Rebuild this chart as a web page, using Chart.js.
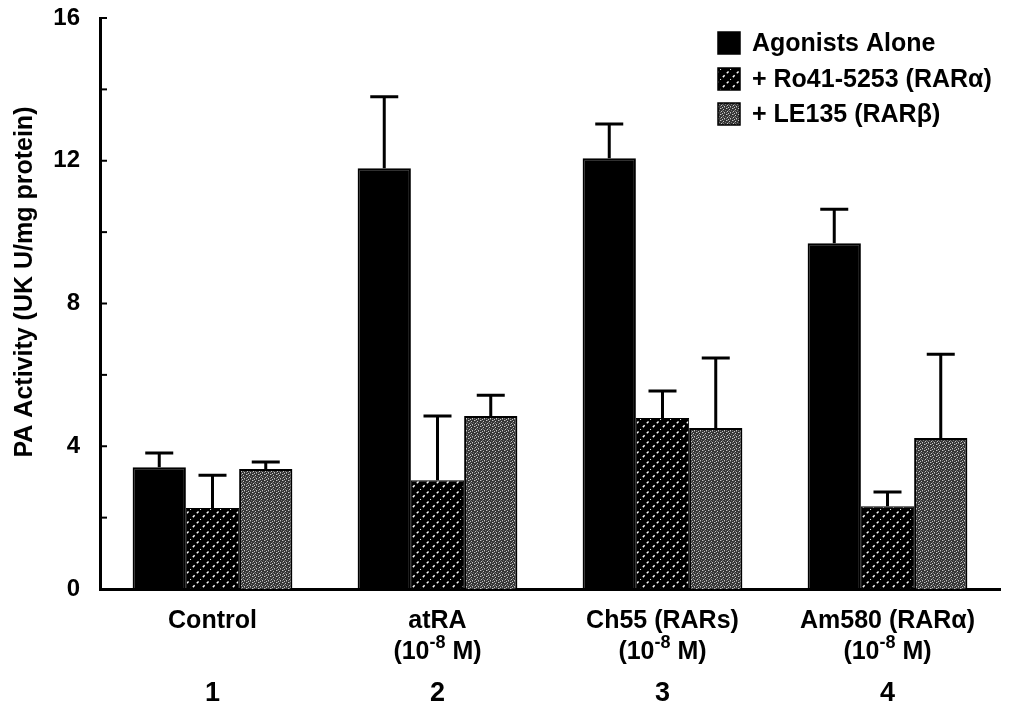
<!DOCTYPE html>
<html>
<head>
<meta charset="utf-8">
<script src="https://cdn.jsdelivr.net/npm/chart.js@4/dist/chart.umd.min.js"></script>
<style>
html, body { margin: 0; padding: 0; background: #fff; }
#wrap { width: 1012px; height: 721px; }
</style>
</head>
<body>
<div id="wrap"><canvas id="myChart" width="1012" height="721"></canvas></div>
<script>
var categories = ['Control', 'atRA', 'Ch55 (RARs)', 'Am580 (RAR\u03b1)'];
var hasConc = [false, true, true, true];
var groupNumbers = ['1', '2', '3', '4'];

var seriesNames = ['Agonists Alone', '+ Ro41-5253 (RAR\u03b1)', '+ LE135 (RAR\u03b2)'];
var agonists = [3.41, 11.79, 12.07, 9.69];
var agonistsErr = [0.40, 2.0, 0.96, 0.95];
var ro41 = [2.27, 3.05, 4.79, 2.32];
var ro41Err = [0.92, 1.8, 0.76, 0.40];
var le135 = [3.36, 4.85, 4.51, 4.23];
var le135Err = [0.20, 0.58, 1.96, 2.35];

var yTicks = [0, 4, 8, 12, 16];
var yTitle = 'PA Activity (UK U/mg protein)';
var FONT = '"Liberation Sans", Arial, sans-serif';

function hatchPattern() {
    var c = document.createElement('canvas');
    c.width = 10; c.height = 10;
    var g = c.getContext('2d');
    g.fillStyle = '#000';
    g.fillRect(0, 0, 10, 10);
    g.strokeStyle = '#fff';
    g.lineWidth = 1.5;
    g.setLineDash([2.5, 3]);
    g.beginPath();
    g.moveTo(-1, 11); g.lineTo(11, -1);
    g.stroke();
    return g.createPattern(c, 'repeat');
}

function stipplePattern() {
    var c = document.createElement('canvas');
    c.width = 6; c.height = 6;
    var g = c.getContext('2d');
    g.fillStyle = '#353535';
    g.fillRect(0, 0, 6, 6);
    g.fillStyle = '#c8c8c8';
    var dots = [[0,0],[3,1],[1,3],[4,4],[2,5]];
    dots.forEach(function(d) { g.fillRect(d[0], d[1], 1, 1); });
    g.fillStyle = '#777';
    var dots2 = [[1,0],[5,2],[2,2],[0,4],[4,5],[3,3]];
    dots2.forEach(function(d) { g.fillRect(d[0], d[1], 1, 1); });
    return g.createPattern(c, 'repeat');
}

var fills = ['#000', hatchPattern(), stipplePattern()];
var errs = [agonistsErr, ro41Err, le135Err];

var errorBars = {
    id: 'errorBars',
    afterDatasetsDraw: function(chart) {
        var ctx = chart.ctx;
        var y = chart.scales.y;
        ctx.save();
        ctx.strokeStyle = '#000';
        ctx.lineWidth = 3;
        chart.data.datasets.forEach(function(ds, i) {
            chart.getDatasetMeta(i).data.forEach(function(bar, j) {
                var top = y.getPixelForValue(ds.data[j] + errs[i][j]);
                ctx.beginPath();
                ctx.moveTo(bar.x, bar.y);
                ctx.lineTo(bar.x, top);
                ctx.moveTo(bar.x - 14, top);
                ctx.lineTo(bar.x + 14, top);
                ctx.stroke();
            });
        });
        ctx.restore();
    }
};

var decorations = {
    id: 'decorations',
    afterDraw: function(chart) {
        var ctx = chart.ctx;
        var xs = chart.scales.x;
        var ys = chart.scales.y;
        var left = chart.chartArea.left;
        ctx.save();

        // inward tick marks
        ctx.strokeStyle = '#000';
        ctx.lineWidth = 2;
        ys.ticks.forEach(function(t) {
            var p = ys.getPixelForValue(t.value);
            ctx.beginPath();
            ctx.moveTo(left, p);
            ctx.lineTo(left + 7, p);
            ctx.stroke();
        });

        // y title
        ctx.fillStyle = '#000';
        ctx.font = 'bold 25px ' + FONT;
        ctx.textAlign = 'center';
        ctx.textBaseline = 'middle';
        ctx.translate(25, 282);
        ctx.rotate(-Math.PI / 2);
        ctx.fillText(yTitle, 0, 0);
        ctx.setTransform(1, 0, 0, 1, 0, 0);

        // category labels
        categories.forEach(function(cat, i) {
            var cx = xs.getPixelForValue(i);
            ctx.font = 'bold 25px ' + FONT;
            ctx.textAlign = 'center';
            ctx.textBaseline = 'middle';
            ctx.fillText(cat, cx, 621);
            if (hasConc[i]) {
                var a = '(10', s = '-8', b = ' M)';
                ctx.font = 'bold 25px ' + FONT;
                var wa = ctx.measureText(a).width, wb = ctx.measureText(b).width;
                ctx.font = 'bold 18px ' + FONT;
                var ws = ctx.measureText(s).width;
                var x0 = cx - (wa + ws + wb) / 2;
                ctx.textAlign = 'left';
                ctx.font = 'bold 25px ' + FONT;
                ctx.fillText(a, x0, 652);
                ctx.fillText(b, x0 + wa + ws, 652);
                ctx.font = 'bold 18px ' + FONT;
                ctx.fillText(s, x0 + wa, 643);
            }
            ctx.font = 'bold 27px ' + FONT;
            ctx.textAlign = 'center';
            ctx.fillText(groupNumbers[i], cx, 694);
        });

        // legend
        ctx.textAlign = 'left';
        ctx.textBaseline = 'middle';
        ctx.font = 'bold 25px ' + FONT;
        var rows = [43, 79, 114];
        seriesNames.forEach(function(name, i) {
            ctx.fillStyle = fills[i];
            ctx.fillRect(718, rows[i] - 11, 22, 22);
            ctx.strokeStyle = '#000';
            ctx.lineWidth = 1.5;
            ctx.strokeRect(718, rows[i] - 11, 22, 22);
            ctx.fillStyle = '#000';
            ctx.fillText(name, 752, rows[i] + 1);
        });
        ctx.restore();
    }
};

var ctx = document.getElementById('myChart');
var myChart = new Chart(ctx, {
    type: 'bar',
    data: {
        labels: categories,
        datasets: [{
            label: seriesNames[0],
            data: agonists,
            backgroundColor: fills[0],
            borderColor: '#000',
            borderWidth: 2
        }, {
            label: seriesNames[1],
            data: ro41,
            backgroundColor: fills[1],
            borderColor: '#000',
            borderWidth: 1
        }, {
            label: seriesNames[2],
            data: le135,
            backgroundColor: fills[2],
            borderColor: '#000',
            borderWidth: 2
        }]
    },
    options: {
        responsive: false,
        animation: { duration: 0 },
        layout: { padding: { top: 18, right: 12, left: 0, bottom: 0 } },
        datasets: { bar: { categoryPercentage: 0.71, barPercentage: 1.0 } },
        plugins: {
            legend: { display: false },
            tooltip: { enabled: false }
        },
        scales: {
            x: {
                grid: { display: false, drawTicks: false },
                border: { display: true, color: '#000', width: 3 },
                ticks: { display: false },
                afterFit: function(scale) { scale.height = 132; }
            },
            y: {
                min: 0,
                max: 16,
                grid: { display: false, drawTicks: false },
                border: { display: true, color: '#000', width: 3 },
                ticks: {
                    stepSize: 2,
                    color: '#000',
                    padding: 20,
                    font: { family: FONT, size: 24, weight: 'bold' },
                    callback: function(v) { return yTicks.indexOf(v) >= 0 ? v : ''; }
                },
                afterFit: function(scale) {
                    scale.width = 100;
                    scale.paddingTop = 0;
                    scale.paddingBottom = 0;
                }
            }
        }
    },
    plugins: [errorBars, decorations]
});
</script>
</body>
</html>
